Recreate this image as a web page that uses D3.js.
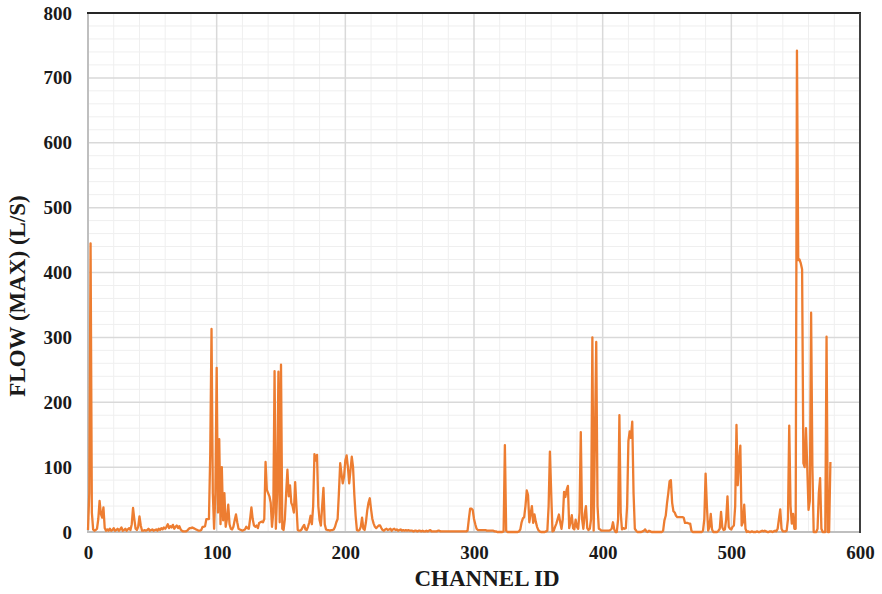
<!DOCTYPE html>
<html>
<head>
<meta charset="utf-8">
<script src="https://cdn.jsdelivr.net/npm/d3@7"></script>
<style>
  html, body { margin: 0; padding: 0; background: #fff; }
  svg { display: block; }
</style>
</head>
<body>
<svg id="chart" width="882" height="594"></svg>
<script>
// Maximum flow (L/s) per channel, channel ID = array index (0..577)
const flowMax = [
  /*   0 */ 3, 60, 445, 30, 4, 2, 3, 5, 20, 48,
  /*  10 */ 28, 22, 38, 6, 2, 4, 2, 5, 2, 3,
  /*  20 */ 6, 2, 3, 5, 2, 4, 7, 2, 3, 5,
  /*  30 */ 2, 4, 6, 3, 12, 37, 20, 5, 3, 8,
  /*  40 */ 24, 10, 2, 2, 3, 2, 3, 5, 2, 3,
  /*  50 */ 4, 2, 3, 4, 2, 5, 3, 6, 4, 7,
  /*  60 */ 5, 8, 12, 6, 9, 7, 11, 5, 8, 10,
  /*  70 */ 6, 9, 4, 2, 1, 1, 1, 2, 4, 6,
  /*  80 */ 6, 7, 6, 5, 4, 3, 2, 2, 3, 8,
  /*  90 */ 8, 9, 20, 20, 20, 120, 313, 60, 5, 60,
  /* 100 */ 253, 30, 143, 12, 100, 18, 60, 8, 20, 42,
  /* 110 */ 12, 5, 4, 8, 18, 27, 15, 5, 4, 3,
  /* 120 */ 2, 3, 4, 8, 6, 5, 20, 38, 20, 10,
  /* 130 */ 8, 10, 6, 14, 15, 16, 15, 20, 108, 65,
  /* 140 */ 60, 55, 45, 8, 30, 248, 5, 60, 247, 15,
  /* 150 */ 258, 5, 3, 20, 60, 96, 55, 72, 45, 40,
  /* 160 */ 30, 77, 40, 3, 2, 2, 4, 8, 11, 4,
  /* 170 */ 3, 8, 15, 25, 12, 40, 120, 110, 119, 40,
  /* 180 */ 18, 10, 40, 68, 12, 4, 3, 3, 2, 3,
  /* 190 */ 3, 4, 8, 15, 20, 60, 106, 90, 75, 85,
  /* 200 */ 110, 118, 100, 75, 95, 116, 100, 57, 25, 3,
  /* 210 */ 2, 3, 8, 22, 5, 3, 15, 33, 45, 52,
  /* 220 */ 35, 20, 13, 8, 6, 8, 10, 10, 6, 3,
  /* 230 */ 2, 4, 5, 3, 4, 5, 2, 4, 5, 3,
  /* 240 */ 4, 2, 3, 4, 2, 3, 2, 3, 2, 3,
  /* 250 */ 2, 2, 2, 1, 2, 2, 1, 2, 2, 1,
  /* 260 */ 2, 1, 1, 2, 1, 2, 3, 1, 1, 1,
  /* 270 */ 1, 1, 2, 2, 1, 1, 1, 1, 1, 1,
  /* 280 */ 1, 1, 1, 1, 1, 1, 1, 1, 1, 1,
  /* 290 */ 1, 1, 1, 1, 1, 2, 20, 36, 36, 34,
  /* 300 */ 20, 12, 5, 3, 3, 3, 3, 3, 3, 3,
  /* 310 */ 2, 2, 2, 2, 2, 2, 1, 1, 0, 0,
  /* 320 */ 0, 0, 0, 1, 134, 2, 0, 0, 0, 0,
  /* 330 */ 0, 0, 0, 0, 0, 1, 4, 15, 21, 23,
  /* 340 */ 40, 64, 57, 15, 28, 40, 14, 27, 16, 8,
  /* 350 */ 3, 1, 0, 0, 0, 0, 1, 2, 40, 124,
  /* 360 */ 60, 1, 2, 8, 13, 20, 27, 15, 5, 20,
  /* 370 */ 62, 54, 65, 71, 6, 15, 26, 6, 4, 19,
  /* 380 */ 8, 5, 30, 154, 20, 5, 27, 40, 6, 3,
  /* 390 */ 5, 20, 300, 2, 146, 293, 40, 5, 4, 2,
  /* 400 */ 2, 2, 2, 2, 2, 2, 3, 5, 15, 4,
  /* 410 */ 0, 0, 20, 180, 30, 4, 6, 5, 6, 40,
  /* 420 */ 140, 155, 145, 170, 60, 5, 2, 0, 0, 0,
  /* 430 */ 0, 1, 2, 4, 1, 0, 2, 1, 0, 0,
  /* 440 */ 0, 0, 0, 0, 0, 0, 0, 2, 18, 25,
  /* 450 */ 44, 60, 78, 80, 45, 32, 30, 25, 23, 23,
  /* 460 */ 23, 23, 23, 22, 14, 14, 14, 13, 13, 2,
  /* 470 */ 0, 0, 0, 0, 0, 0, 0, 0, 2, 20,
  /* 480 */ 90, 40, 2, 8, 28, 4, 0, 0, 0, 0,
  /* 490 */ 2, 5, 31, 7, 3, 4, 20, 55, 8, 5,
  /* 500 */ 4, 8, 10, 40, 165, 72, 110, 133, 10, 15,
  /* 510 */ 42, 5, 0, 1, 0, 0, 1, 0, 0, 0,
  /* 520 */ 1, 0, 0, 1, 2, 1, 2, 1, 0, 0,
  /* 530 */ 1, 1, 0, 1, 2, 1, 5, 20, 35, 5,
  /* 540 */ 1, 1, 1, 2, 20, 164, 40, 13, 28, 5,
  /* 550 */ 5, 742, 419, 420, 414, 405, 106, 100, 160, 100,
  /* 560 */ 34, 48, 338, 100, 0, 0, 0, 5, 60, 83,
  /* 570 */ 5, 0, 0, 0, 301, 0, 0, 108
];
const channelIds = flowMax.map((_, i) => i);

const xTickValues = [0, 100, 200, 300, 400, 500, 600];
const yTickValues = [0, 100, 200, 300, 400, 500, 600, 700, 800];
const xMinorValues = d3.range(0, 601, 20);
const yMinorValues = d3.range(0, 801, 20);

const xTitle = "CHANNEL ID";
const yTitle = "FLOW (MAX) (L/S)";

const W = 882, H = 594;
const margin = { top: 13, right: 22, bottom: 62, left: 88 };
const plotW = W - margin.left - margin.right;
const plotH = H - margin.top - margin.bottom;

const svg = d3.select("#chart");
const font = "'Liberation Serif', 'Times New Roman', serif";

const x = d3.scaleLinear().domain([0, 600]).range([margin.left, margin.left + plotW]);
const y = d3.scaleLinear().domain([0, 800]).range([margin.top + plotH, margin.top]);

// minor grid
const grid = svg.append("g");
grid.selectAll("line.xm").data(xMinorValues.filter(v => v % 100 !== 0)).join("line")
  .attr("x1", d => x(d)).attr("x2", d => x(d))
  .attr("y1", y(0)).attr("y2", y(800))
  .attr("stroke", "#efefef").attr("stroke-width", 1);
grid.selectAll("line.ym").data(yMinorValues.filter(v => v % 100 !== 0)).join("line")
  .attr("x1", x(0)).attr("x2", x(600))
  .attr("y1", d => y(d)).attr("y2", d => y(d))
  .attr("stroke", "#efefef").attr("stroke-width", 1);

// major grid
grid.selectAll("line.xM").data(xTickValues).join("line")
  .attr("x1", d => x(d)).attr("x2", d => x(d))
  .attr("y1", y(0)).attr("y2", y(800))
  .attr("stroke", "#d9d9d9").attr("stroke-width", 1.5);
grid.selectAll("line.yM").data(yTickValues).join("line")
  .attr("x1", x(0)).attr("x2", x(600))
  .attr("y1", d => y(d)).attr("y2", d => y(d))
  .attr("stroke", "#d9d9d9").attr("stroke-width", 1.5);

// axes (labels only, lines drawn as frame)
const xAxis = d3.axisBottom(x).tickValues(xTickValues).tickSize(0).tickPadding(14);
const yAxis = d3.axisLeft(y).tickValues(yTickValues).tickSize(0).tickPadding(16);

const gx = svg.append("g").attr("transform", `translate(0,${y(0)})`).call(xAxis);
const gy = svg.append("g").attr("transform", `translate(${x(0)},0)`).call(yAxis);
[gx, gy].forEach(g => {
  g.select(".domain").remove();
  g.selectAll("text")
    .attr("font-family", font)
    .attr("font-size", 19)
    .attr("font-weight", "bold")
    .attr("fill", "#1a1a1a");
});

// frame: light left/bottom, dark top/right
svg.append("line").attr("x1", x(0)).attr("x2", x(0)).attr("y1", y(0) + 1).attr("y2", y(800))
  .attr("stroke", "#bfbfbf").attr("stroke-width", 2);
svg.append("line").attr("x1", x(0)).attr("x2", x(600)).attr("y1", y(0)).attr("y2", y(0))
  .attr("stroke", "#bfbfbf").attr("stroke-width", 2);

// flow line
const line = d3.line()
  .x((d, i) => x(channelIds[i]))
  .y(d => y(d));
svg.append("path")
  .datum(flowMax)
  .attr("d", line)
  .attr("fill", "none")
  .attr("stroke", "#ED7D31")
  .attr("stroke-width", 2.3)
  .attr("stroke-linejoin", "round");

svg.append("line").attr("x1", x(0) - 1).attr("x2", x(600) + 1).attr("y1", y(800)).attr("y2", y(800))
  .attr("stroke", "#262626").attr("stroke-width", 2);
svg.append("line").attr("x1", x(600)).attr("x2", x(600)).attr("y1", y(800)).attr("y2", y(0) + 1)
  .attr("stroke", "#404040").attr("stroke-width", 2);

// axis titles
svg.append("text")
  .attr("x", 487).attr("y", 586)
  .attr("text-anchor", "middle")
  .attr("font-family", font).attr("font-size", 23).attr("font-weight", "bold")
  .attr("fill", "#1a1a1a")
  .text(xTitle);
svg.append("text")
  .attr("transform", `translate(25,296) rotate(-90)`)
  .attr("text-anchor", "middle")
  .attr("font-family", font).attr("font-size", 23).attr("font-weight", "bold")
  .attr("fill", "#1a1a1a")
  .text(yTitle);
</script>
</body>
</html>
